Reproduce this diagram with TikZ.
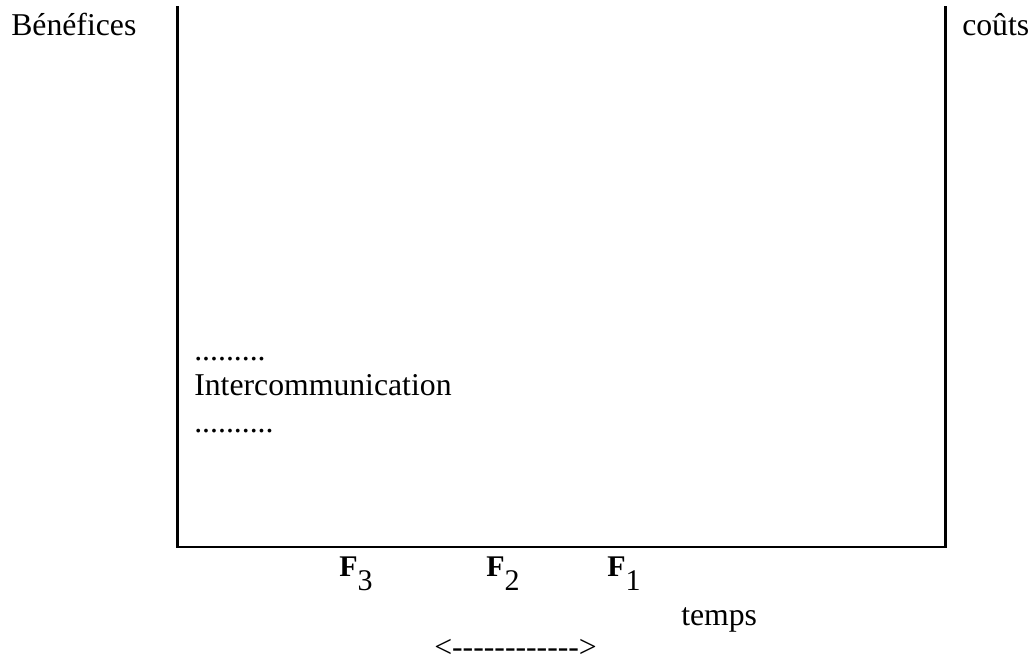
\documentclass[tikz,border=0pt]{standalone}
\usepackage{fontspec}
\setmainfont{Liberation Serif}

\begin{document}
\begin{tikzpicture}[
  x=0.75pt, y=-0.75pt,
  frame/.style={line width=2pt, draw=black},
  lbl/.style={anchor=base west, inner sep=0pt, font=\fontsize{23.8}{28}\selectfont},
  flbl/.style={anchor=base west, inner sep=0pt, font=\fontsize{22.5}{26}\selectfont},
]
\useasboundingbox (0,0) rectangle (1032,662);

\coordinate (topl) at (177.5,6);
\coordinate (botl) at (177.5,547);
\coordinate (botr) at (945.5,547);
\coordinate (topr) at (945.5,6);

\draw[frame] (topl) -- (botl) -- (botr) -- (topr);

\node[lbl] (benef) at (11,35)  {Bénéfices};
\node[lbl] (couts) at (962,35) {coûts};

\node[lbl] (dotsa) at (194,360) {.........};
\node[lbl] (inter) at (194,395) {Intercommunication};
\node[lbl] (dotsb) at (194,432) {..........};

\node[flbl] (fthree) at (339,576) {\textbf{F}\raisebox{-10.5pt}{3}};
\node[flbl] (ftwo)   at (486,576) {\textbf{F}\raisebox{-10.5pt}{2}};
\node[flbl] (fone)   at (607,576) {\textbf{F}\raisebox{-10.5pt}{1}};

\node[lbl] (temps) at (681,625) {temps};
\node[lbl] (span)  at (434,657) {<\foreach \k in {1,...,12}{\mbox{-}}>};

\end{tikzpicture}
\end{document}
